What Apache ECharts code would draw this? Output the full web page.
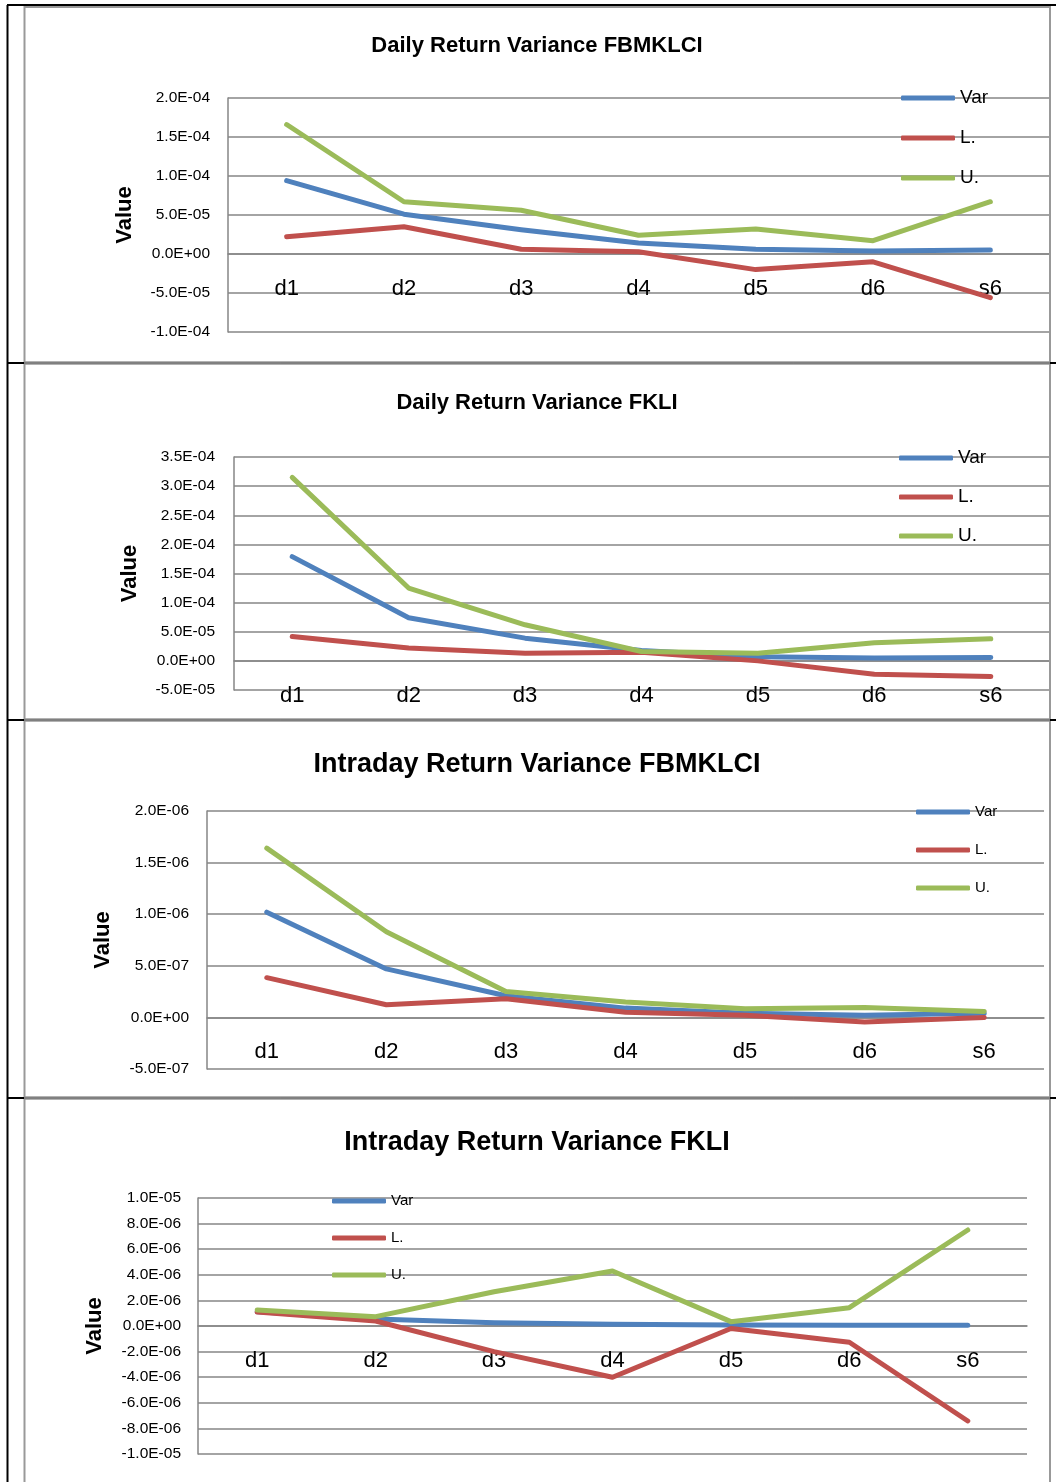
<!DOCTYPE html>
<html>
<head>
<meta charset="utf-8">
<script src="https://cdn.jsdelivr.net/npm/echarts@6/dist/echarts.min.js"></script>
<style>
html,body{margin:0;padding:0;background:#fff;}
#c{width:1056px;height:1482px;}
</style>
</head>
<body>
<div id="c"></div>
<script>
const categories = ['d1','d2','d3','d4','d5','d6','s6'];
const seriesNames = ['Var','L.','U.'];

const dailyKlciVar = [9.4e-5, 5.1e-5, 3.1e-5, 1.4e-5, 6e-6, 4e-6, 5e-6];
const dailyKlciL   = [2.2e-5, 3.5e-5, 6e-6, 3e-6, -2.0e-5, -1.0e-5, -5.6e-5];
const dailyKlciU   = [1.66e-4, 6.7e-5, 5.6e-5, 2.4e-5, 3.2e-5, 1.7e-5, 6.7e-5];

const dailyFkliVar = [1.79e-4, 7.4e-5, 3.9e-5, 1.8e-5, 7e-6, 5e-6, 6e-6];
const dailyFkliL   = [4.2e-5, 2.2e-5, 1.3e-5, 1.5e-5, 0, -2.3e-5, -2.7e-5];
const dailyFkliU   = [3.15e-4, 1.25e-4, 6.2e-5, 1.6e-5, 1.3e-5, 3.1e-5, 3.8e-5];

const intraKlciVar = [1.02e-6, 4.7e-7, 2.1e-7, 9e-8, 4e-8, 2e-8, 4e-8];
const intraKlciL   = [3.85e-7, 1.23e-7, 1.8e-7, 5e-8, 2e-8, -4.5e-8, 0];
const intraKlciU   = [1.64e-6, 8.3e-7, 2.5e-7, 1.5e-7, 8.4e-8, 9.7e-8, 5.8e-8];

const intraFkliVar = [1.12e-6, 5.5e-7, 2.6e-7, 1.3e-7, 8e-8, 5e-8, 5e-8];
const intraFkliL   = [1.1e-6, 3.9e-7, -2.0e-6, -4.0e-6, -2e-7, -1.27e-6, -7.42e-6];
const intraFkliU   = [1.25e-6, 7.3e-7, 2.68e-6, 4.3e-6, 3.4e-7, 1.43e-6, 7.5e-6];

const titles = ['Daily Return Variance FBMKLCI','Daily Return Variance FKLI','Intraday Return Variance FBMKLCI','Intraday Return Variance FKLI'];
const yMins = [-1e-4, -5e-5, -5e-7, -1e-5];
const yMaxs = [2e-4, 3.5e-4, 2e-6, 1e-5];
const yIntervals = [5e-5, 5e-5, 5e-7, 2e-6];

const colors = ['#4F81BD','#C0504D','#9BBB59'];
const FONT = "'Liberation Sans', Arial, sans-serif";
const GRID_C = '#868686';

function sci(v){
  const s = Number(v).toExponential(1);
  const parts = s.split('e');
  const sign = parts[1][0];
  const digits = parts[1].slice(1).padStart(2,'0');
  return parts[0] + 'E' + sign + digits;
}

const dataSets = [
  [dailyKlciVar, dailyKlciL, dailyKlciU],
  [dailyFkliVar, dailyFkliL, dailyFkliU],
  [intraKlciVar, intraKlciL, intraKlciU],
  [intraFkliVar, intraFkliL, intraFkliU]
];

const L = [
  {grid:{left:228,right:7,top:98,height:234}, titleY:35, titleSize:22, nameGap:92, labMargin:18,
   legend:{left:901,top:88,lh:20,gap:20,fs:19}},
  {grid:{left:234,right:7,top:457,height:233}, titleY:392, titleSize:22, nameGap:93, labMargin:19,
   legend:{left:899,top:448,lh:20,gap:19,fs:19}},
  {grid:{left:207,right:12,top:811,height:258}, titleY:751, titleSize:27, nameGap:93, labMargin:18,
   legend:{left:916,top:804,lh:16,gap:22,fs:15}},
  {grid:{left:198,right:29,top:1198,height:256}, titleY:1129, titleSize:27, nameGap:92, labMargin:17,
   legend:{left:332,top:1193,lh:16,gap:21,fs:15}}
];

const option = {
  animation:false,
  backgroundColor:'#fff',
  color: colors,
  title: L.map((p,i)=>({
    text: titles[i], left:537, textAlign:'center', top:p.titleY, padding:0,
    textStyle:{fontFamily:FONT, fontWeight:'bold', fontSize:p.titleSize, color:'#000'}
  })),
  legend: L.map((p,i)=>({
    data: seriesNames, orient:'vertical', left:p.legend.left, top:p.legend.top, padding:0,
    itemWidth:54, itemHeight:5, itemGap:p.legend.gap, icon:'roundRect', selectedMode:false,
    textStyle:{fontFamily:FONT, fontSize:p.legend.fs, color:'#000', lineHeight:p.legend.lh}
  })),
  grid: L.map(p=>Object.assign({}, p.grid, {containLabel:false, outerBoundsMode:'none'})),
  xAxis: L.map((p,i)=>({
    type:'category', gridIndex:i, data:categories, boundaryGap:true, offset:0,
    axisLine:{show:true, onZero:false, lineStyle:{color:GRID_C, width:1.5}},
    axisTick:{show:false},
    axisLabel:{margin:24, fontFamily:FONT, fontSize:22, color:'#000', interval:0},
    splitLine:{show:false}
  })),
  yAxis: L.map((p,i)=>({
    type:'value', gridIndex:i, min:yMins[i], max:yMaxs[i], interval:yIntervals[i],
    name:'Value', nameLocation:'middle', nameRotate:90, nameGap:p.nameGap,
    nameTextStyle:{fontFamily:FONT, fontWeight:'bold', fontSize:22, color:'#000'},
    axisLine:{show:true, onZero:false, lineStyle:{color:GRID_C, width:1.5}},
    axisTick:{show:false},
    axisLabel:{margin:p.labMargin, fontFamily:FONT, fontSize:15.5, color:'#000', formatter:sci, padding:[3,0,0,0]},
    splitLine:{show:true, lineStyle:{color:GRID_C, width:1.5}}
  })),
  series: [],
  graphic: []
};

dataSets.forEach((set,i)=>{
  set.forEach((vals,k)=>{
    option.series.push({
      type:'line', name:seriesNames[k], xAxisIndex:i, yAxisIndex:i,
      data: vals, showSymbol:false, symbol:'none',
      lineStyle:{width:5, color:colors[k], cap:'round', join:'round'},
      itemStyle:{color:colors[k]}
    });
  });
});

const g = option.graphic;
function ln(x1,y1,x2,y2,c,w){ g.push({type:'line', silent:true, z:100, shape:{x1,y1,x2,y2}, style:{stroke:c, lineWidth:w}}); }
ln(7.5,5,7.5,1482,'#000',2);
ln(7,5,1056,5,'#000',2);
ln(24.5,6,24.5,1482,'#999',2);
ln(1050,6,1050,1482,'#999',2);
ln(24,7,1050,7,'#999',2);
[363,720,1098].forEach(y=>{
  ln(24,y,1050,y,'#999',3.5);
  ln(24,y,1050,y,'#666',1);
  ln(7,y,24,y,'#000',2);
  ln(1050,y,1056,y,'#000',2);
});

const chart = echarts.init(document.getElementById('c'), null, {renderer:'canvas'});
chart.setOption(option);

// Move each category axis (line + labels) to the y=0 position of its value axis,
// as the Excel chart's horizontal axis crosses at zero.
const offsets = L.map((p,i)=>{
  const zeroY = chart.convertToPixel({yAxisIndex:i}, 0);
  const bottom = p.grid.top + p.grid.height;
  return -(bottom - zeroY);
});
chart.setOption({xAxis: offsets.map(o=>({offset:o}))});
</script>
</body>
</html>
